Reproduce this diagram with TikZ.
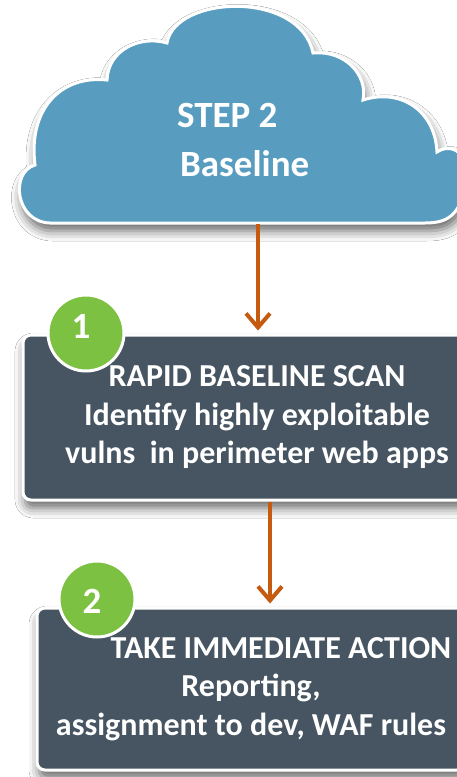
\documentclass[tikz,border=0pt]{standalone}
\usepackage{fontspec}
\setmainfont{Carlito}
\usetikzlibrary{arrows.meta,shadows.blur}
\definecolor{cloudblue}{RGB}{88,157,192}
\definecolor{slate}{RGB}{70,85,97}
\definecolor{leaf}{RGB}{125,193,66}
\definecolor{rust}{RGB}{197,90,17}

\begin{document}
\begin{tikzpicture}[x=1pt, y=-1pt,
    softshadow/.style={blur shadow={shadow xshift=2pt, shadow yshift=-8pt, shadow blur radius=10pt, shadow opacity=60}},
    stepbox/.style={rectangle, rounded corners=8pt, fill=slate, draw=white, line width=3pt, softshadow,
      text=white, align=center, font=\fontsize{32}{38.5}\selectfont\bfseries},
    badge/.style={circle, fill=leaf, draw=white, line width=3pt, minimum size=76pt, inner sep=0pt},
    digit/.style={text=white, inner sep=0pt, font=\fontsize{37}{37}\selectfont\bfseries},
    cloudtext/.style={anchor=base west, text=white, inner sep=0pt, font=\fontsize{37}{49}\selectfont\bfseries},
    flow/.style={rust, line width=4pt, shorten >=3pt, -{Straight Barb[length=14pt, width=24pt]}}]
      \useasboundingbox (0,0) rectangle (457,777);
      \fill [white] (0,0) rectangle (457,777);
      \clip (0,0) rectangle (457,777);

      % Cloud
      \path [fill=cloudblue, draw=white, line width=3pt, softshadow]
        (50,223) .. controls (15,222) and (10,172) .. (35,165)
        .. controls (28,110) and (60,75) .. (107,80)
        .. controls (108,50) and (140,35) .. (167,43)
        .. controls (175,-5) and (300,-10) .. (313,53)
        .. controls (345,50) and (368,75) .. (363,100)
        .. controls (400,88) and (435,110) .. (437,152)
        .. controls (455,140) and (475,160) .. (465,190)
        .. controls (458,215) and (448,223) .. (425,223) -- cycle;
      \node [cloudtext] (steplbl) at (177,127) {STEP 2};
      \node [cloudtext] (baselbl) at (180,176) {Baseline};
      \coordinate (cloudbot) at (258,224);

      % Steps
      \node [stepbox, minimum width=468pt, minimum height=165pt] (scan) at (257,417.5)
        {RAPID BASELINE SCAN\\Identify highly exploitable\\vulns\ \ in perimeter web apps};
      \node [stepbox, minimum width=428pt, minimum height=162pt] (act) at (251,689)
        {\hspace*{60pt}TAKE IMMEDIATE ACTION\\Reporting,\\assignment to dev, WAF rules};

      % Badges
      \node [badge] (badge1) at (86,333) {};
      \node [digit] (num1) at (81,326) {1};
      \node [badge] (badge2) at (97,599) {};
      \node [digit] (num2) at (92,601) {2};

      % Arrows
      \draw [flow] (cloudbot) -- (cloudbot |- scan.north);
      \draw [flow] ([xshift=13pt]scan.south) -- ([xshift=13pt]scan.south |- act.north);
    \end{tikzpicture}
\end{document}
